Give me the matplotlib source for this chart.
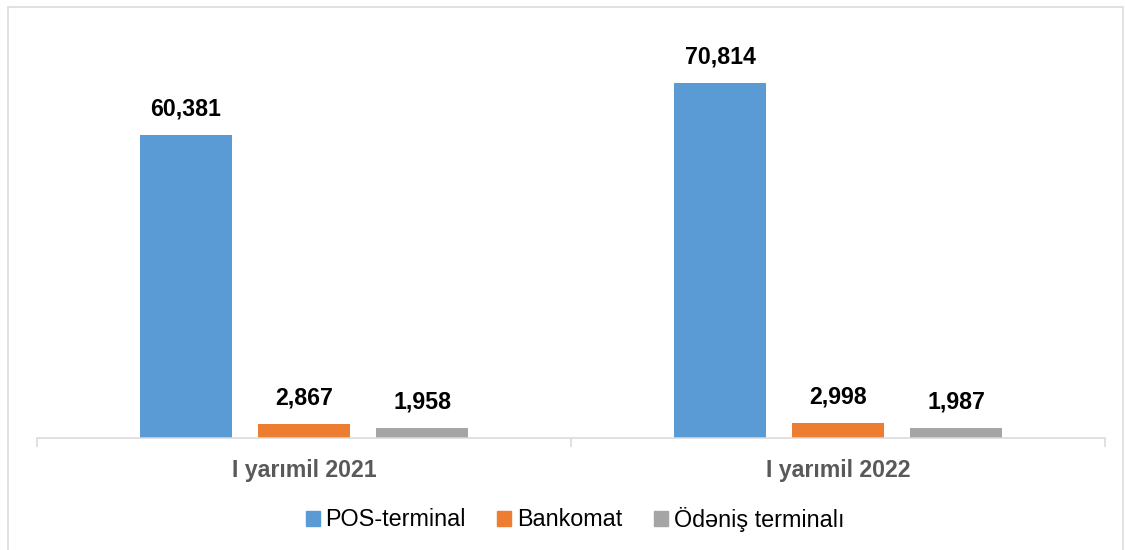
import matplotlib
matplotlib.use("Agg")
import matplotlib.pyplot as plt
from matplotlib.patches import Patch, Rectangle
import numpy as np

plt.rcParams['font.family'] = ['Liberation Sans', 'DejaVu Sans']

categories = ["I yarımil 2021", "I yarımil 2022"]
series_names = ["POS-terminal", "Bankomat", "Ödəniş terminalı"]
pos_terminal = [60381, 70814]
bankomat = [2867, 2998]
odenis = [1958, 1987]
colors = ["#5B9BD5", "#ED7D31", "#A5A5A5"]

fig = plt.figure(figsize=(11.25, 5.5), dpi=100)
ax = fig.add_axes([37 / 1125, 112 / 550, 1068 / 1125, 401 / 550])

x = np.arange(len(categories))
width = 0.174
step = 0.221
for i, (vals, col) in enumerate(zip([pos_terminal, bankomat, odenis], colors)):
    bars = ax.bar(x + (i - 1) * step, vals, width, color=col, label=series_names[i])
    for b, v in zip(bars, vals):
        ax.annotate(f"{v:,}", (b.get_x() + b.get_width() / 2, v),
                    xytext=(0, 10.5), textcoords="offset points",
                    ha="center", va="bottom", fontsize=16.7, fontweight="bold")

ax.set_xlim(-0.5, 1.5)
ax.set_ylim(0, 80000)
ax.set_xticks(x)
ax.set_xticklabels(categories, fontsize=16.7, fontweight="bold", color="#595959")
ax.tick_params(axis="x", which="major", length=0, pad=15)
ax.set_xticks([-0.5, 0.5, 1.5], minor=True)
ax.tick_params(axis="x", which="minor", length=6.5, width=1.1, color="#D9D9D9")
ax.set_yticks([])
for s in ["top", "left", "right"]:
    ax.spines[s].set_visible(False)
ax.spines["bottom"].set_color("#D9D9D9")
ax.spines["bottom"].set_linewidth(1.1)

handles = [Patch(color=c) for c in colors]
fig.legend(handles, series_names, loc="center", bbox_to_anchor=(575 / 1125, 1 - 519 / 550),
           ncol=3, frameon=False, fontsize=16.8, handlelength=0.6, handleheight=0.6,
           handletextpad=0.25, columnspacing=1.35)

fig.patches.append(Rectangle((8 / 1125, -0.1), 1115 / 1125, 1.1 - 7 / 550,
                             transform=fig.transFigure, fill=False,
                             edgecolor="#D9D9D9", linewidth=1.1))

fig.savefig("out.png", dpi=100)
